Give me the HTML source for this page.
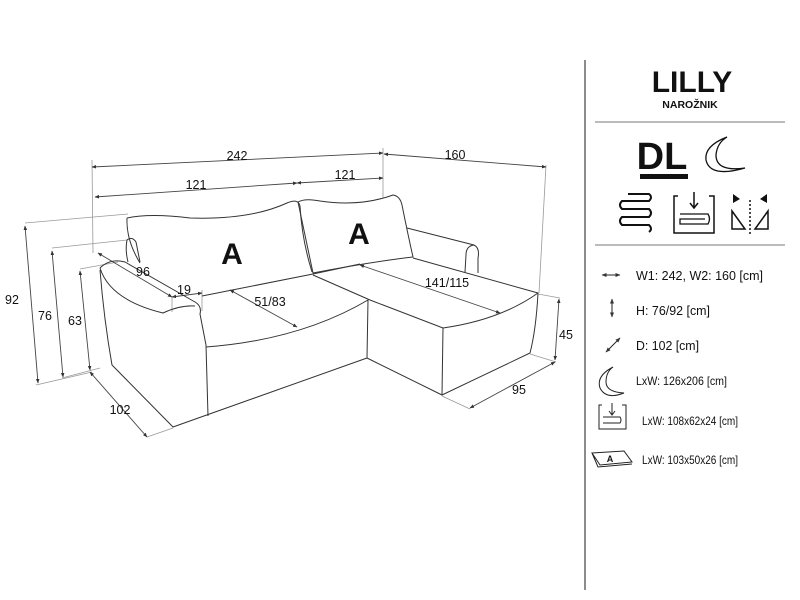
<!DOCTYPE html>
<html><head><meta charset="utf-8"><style>
html,body{margin:0;padding:0;background:#fff;}
svg{display:block;}
text{font-family:"Liberation Sans",sans-serif;fill:#111;}
</style></head><body>
<svg width="800" height="600" viewBox="0 0 800 600" xmlns="http://www.w3.org/2000/svg">
<defs>
<marker id="a" viewBox="0 0 10 10" refX="9" refY="5" markerWidth="5" markerHeight="5" orient="auto-start-reverse"><path d="M0,1 L10,5 L0,9z" fill="#333"/></marker>
</defs>
<g stroke="#999" stroke-width="0.8" fill="none">
<line x1="92" y1="160" x2="93" y2="253"/>
<line x1="383" y1="148" x2="383" y2="198"/>
<line x1="546" y1="165" x2="539" y2="293"/>
<line x1="25" y1="223" x2="128" y2="214"/>
<line x1="52" y1="248" x2="127" y2="240"/>
<line x1="80" y1="269" x2="118" y2="262"/>
<line x1="36" y1="385" x2="92" y2="372"/>
<line x1="62" y1="378" x2="100" y2="368"/>
<line x1="147" y1="437" x2="173" y2="428"/>
<line x1="538" y1="294" x2="560" y2="298"/>
<line x1="530" y1="354" x2="556" y2="362"/>
<line x1="442" y1="396" x2="470" y2="409"/>
<line x1="172" y1="297" x2="172" y2="312"/>
<line x1="202" y1="290" x2="202" y2="311"/>
</g>
<g stroke="#444" stroke-width="0.9" fill="none" marker-start="url(#a)" marker-end="url(#a)">
<line x1="92" y1="167" x2="383" y2="153"/>
<line x1="95" y1="197" x2="297" y2="183"/>
<line x1="297" y1="183" x2="383" y2="178"/>
<line x1="384" y1="154" x2="546" y2="167"/>
<line x1="25" y1="226" x2="38" y2="383"/>
<line x1="52" y1="251" x2="63" y2="377"/>
<line x1="80" y1="271" x2="90" y2="370"/>
<line x1="98" y1="253" x2="172" y2="297"/>
<line x1="172" y1="297" x2="202" y2="293"/>
<line x1="230" y1="290" x2="297" y2="327"/>
<line x1="90" y1="372" x2="147" y2="437"/>
<line x1="360" y1="265" x2="500" y2="313"/>
<line x1="559" y1="299" x2="555" y2="360"/>
<line x1="555" y1="362" x2="470" y2="408"/>
</g>
<g stroke="#333" stroke-width="1" fill="none" stroke-linejoin="round">
<path d="M127,240 Q125,250 128,262 M127,240 Q132,236 136,242 L140,262"/>
<path d="M127,218 Q150,213 190,218 Q250,220 287,203 Q298,198 300,206 Q302,240 312,272 M127,218 Q126,240 140,263"/>
<path d="M298,202 Q305,198 320,201 Q360,207 393,195 Q400,196 402,205 Q408,235 413,257 Q370,262 313,273 Q306,240 298,202"/>
<path d="M407,228 L474,245 Q480,248 478,258 L478,273 M474,245 Q466,246 466,255 L465,272"/>
<path d="M100,268 Q110,258 125,262 L195,302 Q202,306 200,314 L206,345 L208,416"/>
<path d="M100,268 Q110,300 163,313 Q180,305 195,306"/>
<path d="M100,270 Q104,320 112,365 L173,427 L367,358"/>
<path d="M202,296 L313,274 L360,264"/>
<path d="M206,347 Q300,340 368,300 L367,358"/>
<path d="M313,275 L370,300"/>
<path d="M413,258 L538,293"/>
<path d="M370,300 L443,328 Q500,320 538,293 Q536,330 530,353 L442,395 L367,358"/>
<path d="M443,328 L442,395"/>
</g>
<text x="232" y="264" font-size="30" font-weight="bold" text-anchor="middle">A</text>
<text x="359" y="244" font-size="30" font-weight="bold" text-anchor="middle">A</text>
<g font-size="12.5" text-anchor="middle">
<text x="237" y="160">242</text>
<text x="196" y="189">121</text>
<text x="345" y="179">121</text>
<text x="455" y="159">160</text>
<text x="12" y="304">92</text>
<text x="45" y="320">76</text>
<text x="75" y="325">63</text>
<text x="143" y="276">96</text>
<text x="184" y="294">19</text>
<text x="270" y="306">51/83</text>
<text x="120" y="414">102</text>
<text x="447" y="287">141/115</text>
<text x="566" y="339">45</text>
<text x="519" y="394">95</text>
</g>
<line x1="585" y1="60" x2="585" y2="590" stroke="#666" stroke-width="1.5"/>
<line x1="595" y1="122" x2="785" y2="122" stroke="#777" stroke-width="1"/>
<line x1="595" y1="245" x2="785" y2="245" stroke="#777" stroke-width="1"/>
<text x="692" y="92" font-size="30" font-weight="bold" text-anchor="middle">LILLY</text>
<text x="690" y="108" font-size="10.5" font-weight="bold" text-anchor="middle">NAROŽNIK</text>
<text x="662" y="169" font-size="38" font-weight="bold" text-anchor="middle">DL</text>
<rect x="640" y="174" width="48" height="5" fill="#111"/>
<path d="M727,137 Q704,146 706,160 Q710,178 745,168 Q716,172 716,155 Q717,143 727,137z" fill="none" stroke="#111" stroke-width="1.3"/>
<path d="M628,194 L649,194 Q653,197 649,201 L622,201 Q618,205 622,209 L649,209 Q653,213 649,217 L622,217 Q618,221 622,225 L649,225 Q653,229 649,232" fill="none" stroke="#111" stroke-width="2"/>
<path d="M678,196 L674,196 L674,233 L714,233 L714,196 L709,196" fill="none" stroke="#111" stroke-width="1.5"/>
<path d="M694,192 L694,207 M690,203 L694,208 L698,203" fill="none" stroke="#111" stroke-width="1.5"/>
<path d="M680,214 L708,214 Q711,219 708,224 L680,224 L680,219 L705,219" fill="none" stroke="#111" stroke-width="1.3"/>
<path d="M732,211 L732,229 L745,229z M768,211 L768,229 L755,229z" fill="none" stroke="#111" stroke-width="1.5"/>
<path d="M733,194 L740,199 L733,203z M767,194 L760,199 L767,203z" fill="#111"/>
<line x1="750" y1="200" x2="750" y2="234" stroke="#111" stroke-width="1.5" stroke-dasharray="2,2"/>
<g stroke="#222" stroke-width="1" fill="none">
<line x1="602" y1="275" x2="620" y2="275" marker-start="url(#a)" marker-end="url(#a)"/>
<line x1="612" y1="299" x2="612" y2="317" marker-start="url(#a)" marker-end="url(#a)"/>
<line x1="606" y1="352" x2="620" y2="338" marker-start="url(#a)" marker-end="url(#a)"/>
<path d="M613,367 Q596,376 600,388 Q606,400 624,393 Q606,392 606,382 Q606,372 613,367z"/>
<path d="M602,405 L599,405 L599,429 L626,429 L626,405 L622,405 M612,403 L612,414 M609,411 L612,415 L615,411 M603,417 L620,417 Q622,420 620,423 L603,423"/>
<path d="M592,453 L624,451 L632,462 L600,465z M592,453 L598,467 L632,464"/>
</g>
<text x="610" y="462" font-size="9" font-weight="bold" text-anchor="middle">A</text>
<g font-size="13">
<text x="636" y="280" textLength="127" lengthAdjust="spacingAndGlyphs">W1: 242, W2: 160 [cm]</text>
<text x="636" y="315" textLength="74" lengthAdjust="spacingAndGlyphs">H: 76/92 [cm]</text>
<text x="636" y="350" textLength="63" lengthAdjust="spacingAndGlyphs">D: 102 [cm]</text>
<text x="636" y="385" font-size="12" textLength="91" lengthAdjust="spacingAndGlyphs">LxW: 126x206 [cm]</text>
<text x="642" y="425" font-size="12" textLength="96" lengthAdjust="spacingAndGlyphs">LxW: 108x62x24 [cm]</text>
<text x="642" y="464" font-size="12" textLength="96" lengthAdjust="spacingAndGlyphs">LxW: 103x50x26 [cm]</text>
</g>
</svg>
</body></html>
